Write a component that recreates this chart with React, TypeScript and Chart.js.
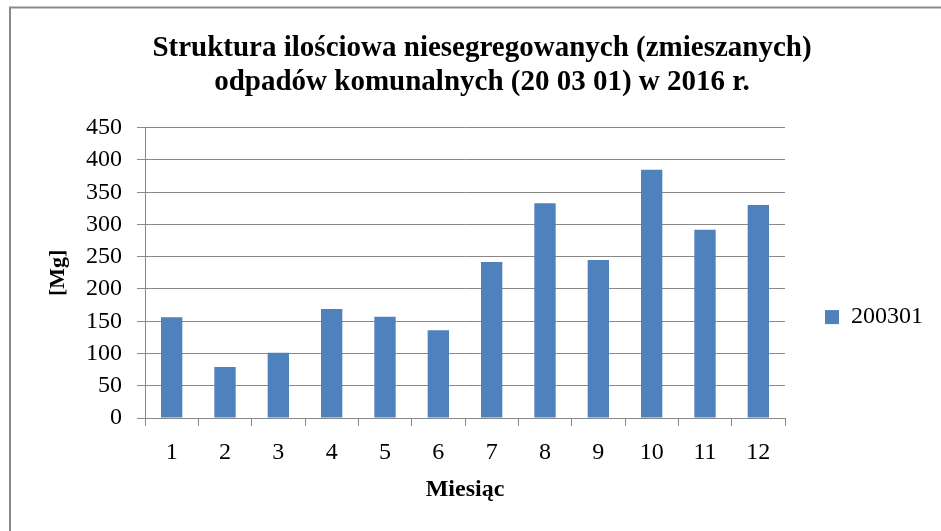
import React, { useEffect, useRef } from 'react';
import { Chart, registerables } from 'chart.js';

Chart.register(...registerables);

const months: string[] = ['1', '2', '3', '4', '5', '6', '7', '8', '9', '10', '11', '12'];
const values200301: number[] = [156, 79, 101, 169, 157, 136, 242, 333, 245, 385, 292, 330];
const seriesLabel = '200301';
const titleLines: string[] = [
  'Struktura ilościowa niesegregowanych (zmieszanych)',
  'odpadów komunalnych (20 03 01) w 2016 r.',
];
const yAxisTitle = '[Mg]';
const xAxisTitle = 'Miesiąc';
const yMin = 0;
const yMax = 450;
const yStep = 50;

const FONT = "'Liberation Serif', 'Times New Roman', serif";
const GRID = '#888888';

const framePlugin = {
  id: 'frame',
  beforeDraw(chart: any) {
    const { ctx, width, height } = chart;
    ctx.save();
    ctx.fillStyle = '#ffffff';
    ctx.fillRect(0, 0, width, height);
    ctx.strokeStyle = '#8a8a8a';
    ctx.lineWidth = 2;
    ctx.beginPath();
    ctx.moveTo(10, height);
    ctx.lineTo(10, 7.5);
    ctx.lineTo(width, 7.5);
    ctx.stroke();
    ctx.restore();
  },
};

export default function App() {
  const ref = useRef<HTMLCanvasElement | null>(null);

  useEffect(() => {
    if (!ref.current) return;
    const chart = new Chart(ref.current, {
      type: 'bar',
      data: {
        labels: months,
        datasets: [
          {
            label: seriesLabel,
            data: values200301,
            backgroundColor: '#4F81BD',
            borderWidth: 0,
            barPercentage: 0.4,
            categoryPercentage: 1.0,
          },
        ],
      },
      options: {
        responsive: false,
        animation: false,
        layout: { padding: { left: 31, right: 8, top: 7, bottom: 10 } },
        plugins: {
          title: {
            display: true,
            text: titleLines,
            color: '#000000',
            font: { family: FONT, size: 29, weight: 'bold', lineHeight: 1.15 },
            padding: { top: 25, bottom: 29 },
          },
          legend: {
            display: true,
            position: 'right',
            align: 'center',
            title: { display: true, text: ' ', font: { size: 1 }, padding: { top: 105, bottom: 0 } },
            labels: {
              boxWidth: 14,
              boxHeight: 14,
              padding: 40,
              color: '#000000',
              font: { family: FONT, size: 24 },
            },
          },
          tooltip: { enabled: false },
        },
        scales: {
          x: {
            grid: {
              display: true,
              drawOnChartArea: false,
              drawTicks: true,
              tickLength: 8,
              color: GRID,
              offset: true,
            },
            border: { display: true, color: GRID, width: 1 },
            ticks: { color: '#000000', font: { family: FONT, size: 24 }, padding: 12, maxRotation: 0 },
            title: {
              display: true,
              text: xAxisTitle,
              color: '#000000',
              font: { family: FONT, size: 24, weight: 'bold' },
              padding: { top: 0, bottom: 17 },
            },
            afterFit(scale: any) {
              scale.height = 103;
            },
          },
          y: {
            min: yMin,
            max: yMax,
            grid: { color: GRID, tickLength: 8, drawTicks: true },
            border: { display: true, color: GRID, width: 1 },
            ticks: { stepSize: yStep, color: '#000000', font: { family: FONT, size: 24 }, padding: 15 },
            title: {
              display: true,
              text: yAxisTitle,
              color: '#000000',
              font: { family: FONT, size: 22, weight: 'bold' },
              padding: { top: 14, bottom: 0 },
            },
            afterFit(scale: any) {
              scale.width = 114;
            },
          },
        },
      },
      plugins: [framePlugin],
    });
    return () => chart.destroy();
  }, []);

  return (
    <div style={{ position: 'fixed', left: 0, top: 0, width: 941, height: 531 }}>
      <canvas ref={ref} width={941} height={531} style={{ display: 'block', width: 941, height: 531 }} />
    </div>
  );
}
